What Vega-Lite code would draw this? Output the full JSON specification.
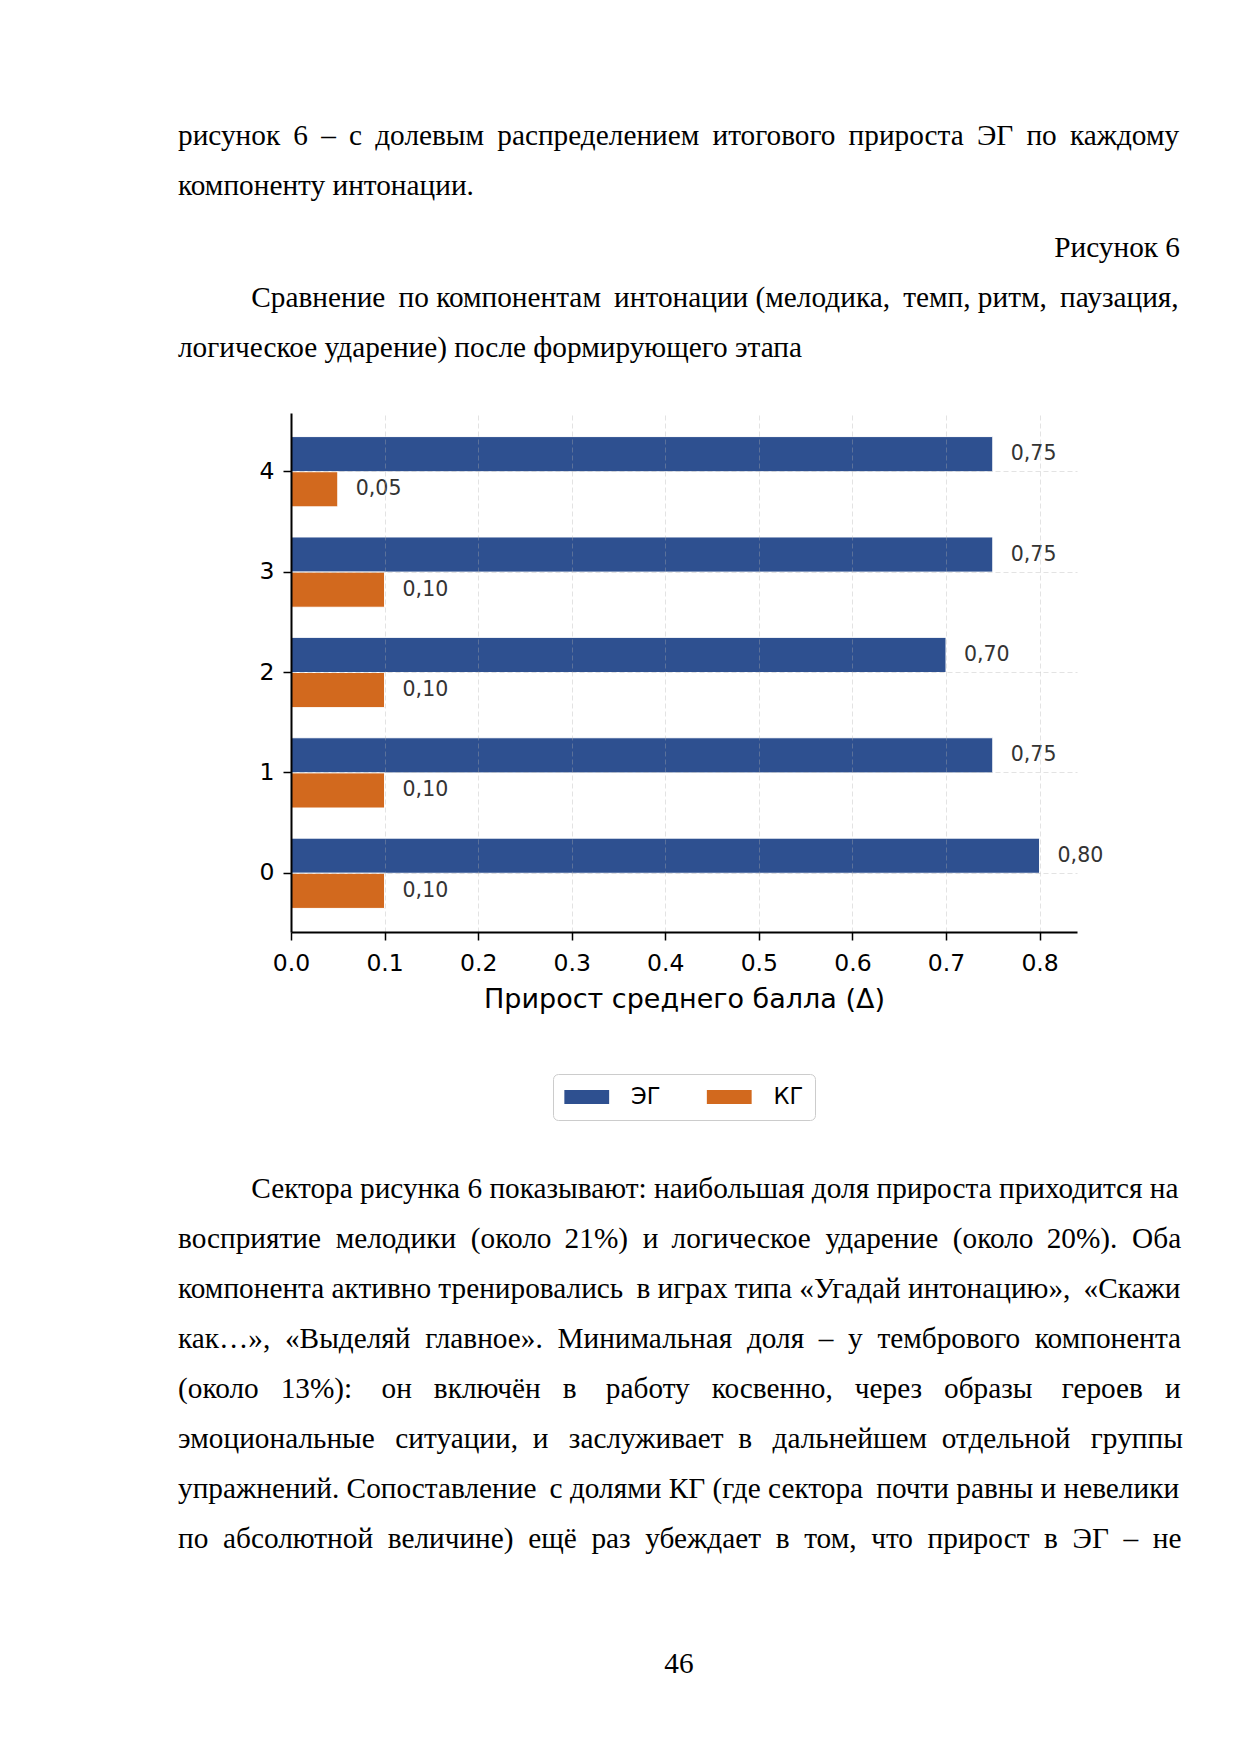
{
  "$schema": "https://vega.github.io/schema/vega-lite/v6.json",
  "autosize": {"type": "none"},
  "padding": {"left": 291, "top": 201, "right": 950, "bottom": 1553},
  "background": "white",
  "bounds": "flush",
  "spacing": 0,
  "config": {
    "view": {"stroke": null},
    "font": "DejaVu Sans",
    "locale": {"number": {"decimal": ",", "thousands": " ", "grouping": [3], "currency": ["", ""]}},
    "title": {"font": "Liberation Serif", "fontSize": 29.3, "fontWeight": "normal", "color": "black", "lineHeight": 50, "frame": "group", "limit": 1200}
  },
  "vconcat": [
    {
      "width": 1002,
      "height": 62,
      "data": {"values": []},
      "mark": "point",
      "title": {
        "text": [
          "рисунок \u20096 \u2009– \u2009с \u2009долевым \u2009распределением \u2009итогового \u2009прироста \u2009ЭГ \u2009по \u2009каждому",
          "компоненту интонации."
        ],
        "anchor": "start",
        "dx": -113,
        "offset": 0
      }
    },
    {
      "width": 889,
      "height": 150,
      "data": {"values": []},
      "mark": "point",
      "title": {"text": "Рисунок 6", "anchor": "end", "offset": 0}
    },
    {
      "width": 786,
      "height": 519,
      "title": {
        "text": [
          "\u200b\u00a0\u00a0\u00a0\u00a0\u00a0\u00a0\u00a0\u00a0\u00a0\u00a0Сравнение \u2009по компонентам \u2009интонации (мелодика, \u2009темп, ритм, \u2009паузация,",
          "логическое ударение) после формирующего этапа"
        ],
        "anchor": "start",
        "dx": -113,
        "offset": 49.5
      },
      "data": {
        "values": [
          {"k": 0, "g": "ЭГ", "v": 0.80},
          {"k": 0, "g": "КГ", "v": 0.10},
          {"k": 1, "g": "ЭГ", "v": 0.75},
          {"k": 1, "g": "КГ", "v": 0.10},
          {"k": 2, "g": "ЭГ", "v": 0.70},
          {"k": 2, "g": "КГ", "v": 0.10},
          {"k": 3, "g": "ЭГ", "v": 0.75},
          {"k": 3, "g": "КГ", "v": 0.10},
          {"k": 4, "g": "ЭГ", "v": 0.75},
          {"k": 4, "g": "КГ", "v": 0.05}
        ]
      },
      "encoding": {
        "y": {
          "field": "k",
          "type": "ordinal",
          "sort": "descending",
          "scale": {"paddingInner": 0.3, "paddingOuter": 0.235},
          "axis": {
            "title": null,
            "labelAngle": 0,
            "labelFontSize": 23.5,
            "labelColor": "black",
            "labelPadding": 9,
            "tickColor": "black",
            "tickSize": 8,
            "tickWidth": 1.5,
            "domainColor": "black",
            "domainWidth": 2,
            "bandPosition": 0.5,
            "grid": true,
            "gridColor": "#b0b0b0",
            "gridOpacity": 0.35,
            "gridDash": [5, 3],
            "zindex": 1
          }
        },
        "yOffset": {
          "field": "g",
          "type": "nominal",
          "sort": ["ЭГ", "КГ"],
          "scale": {"paddingInner": 0, "paddingOuter": 0}
        },
        "x": {
          "field": "v",
          "type": "quantitative",
          "scale": {"domain": [0, 0.84], "nice": false},
          "axis": {
            "values": [0, 0.1, 0.2, 0.3, 0.4, 0.5, 0.6, 0.7, 0.8],
            "format": ".1f",
            "labelExpr": "replace(datum.label, ',', '.')",
            "labelFontSize": 23.5,
            "labelColor": "black",
            "labelPadding": 11,
            "labelFlush": false,
            "tickColor": "black",
            "tickSize": 8,
            "tickWidth": 1.5,
            "domainColor": "black",
            "domainWidth": 2,
            "grid": true,
            "gridColor": "#b0b0b0",
            "gridOpacity": 0.35,
            "gridDash": [5, 3],
            "title": "Прирост среднего балла (Δ)",
            "titleFontSize": 27,
            "titleFontWeight": "normal",
            "titleColor": "black",
            "titlePadding": 12,
            "zindex": 1
          }
        }
      },
      "layer": [
        {
          "mark": {"type": "bar", "stroke": "white", "strokeWidth": 1},
          "encoding": {
            "color": {
              "field": "g",
              "type": "nominal",
              "scale": {"domain": ["ЭГ", "КГ"], "range": ["#2E5090", "#D2691E"]},
              "legend": {
                "orient": "none",
                "legendX": 262,
                "legendY": 873,
                "direction": "horizontal",
                "title": null,
                "symbolType": "M-3.2,-1L3.2,-1L3.2,1L-3.2,1Z",
                "symbolSize": 196,
                "symbolOffset": 11,
                "symbolStrokeWidth": 0,
                "labelFontSize": 22.5,
                "labelColor": "black",
                "labelOffset": 33,
                "columnPadding": 45.5,
                "padding": 11.5,
                "strokeColor": "#cccccc",
                "fillColor": "white",
                "cornerRadius": 5
              }
            }
          }
        },
        {
          "mark": {"type": "text", "align": "left", "baseline": "middle", "dx": 18, "fontSize": 20.5, "color": "#333333"},
          "encoding": {
            "text": {"field": "v", "type": "quantitative", "format": ".2f"}
          }
        }
      ]
    },
    {
      "width": 1002,
      "height": 243,
      "data": {"values": []},
      "mark": "point",
      "title": {
        "text": [
          "\u200b\u00a0\u00a0\u00a0\u00a0\u00a0\u00a0\u00a0\u00a0\u00a0\u00a0Сектора рисунка 6 показывают: наибольшая доля прироста приходится на",
          "восприятие \u00a0мелодики \u00a0(около \u200921%) \u00a0и \u2009логическое \u00a0ударение \u00a0(около \u200920%). \u00a0Оба",
          "компонента активно тренировались \u2009в играх типа «Угадай интонацию», \u2009«Скажи",
          "как…», \u00a0«Выделяй \u00a0главное». \u00a0Минимальная \u00a0доля \u00a0– \u00a0у \u00a0тембрового \u00a0компонента",
          "(около \u00a0\u00a013%): \u00a0\u00a0\u00a0он \u00a0\u00a0включён \u00a0\u00a0в \u00a0\u00a0\u00a0работу \u00a0\u00a0косвенно, \u00a0\u00a0через \u00a0\u00a0образы \u00a0\u00a0\u00a0героев \u00a0\u00a0и",
          "эмоциональные \u00a0\u2009ситуации, \u00a0и \u00a0\u2009заслуживает \u00a0в \u00a0\u2009дальнейшем \u00a0отдельной \u00a0\u2009группы",
          "упражнений. Сопоставление \u2009с долями КГ (где сектора \u2009почти равны и невелики",
          "по \u00a0абсолютной \u00a0величине) \u00a0ещё \u00a0раз \u00a0убеждает \u00a0в \u00a0том, \u00a0что \u00a0прирост \u00a0в \u00a0ЭГ \u00a0– \u00a0не"
        ],
        "orient": "bottom",
        "anchor": "start",
        "dx": -113,
        "offset": 0
      }
    },
    {
      "width": 1002,
      "height": 475,
      "data": {"values": []},
      "mark": "point",
      "title": {"text": "46", "orient": "bottom", "anchor": "middle", "dx": -113, "offset": 0}
    }
  ]
}
